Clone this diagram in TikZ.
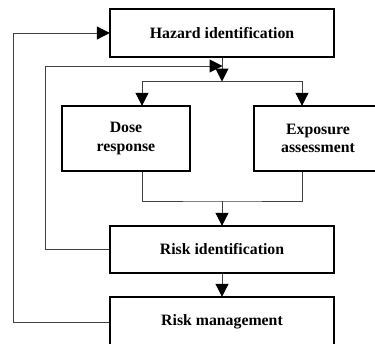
\documentclass[tikz,border=0pt]{standalone}
\usepackage{fontspec}
\setmainfont{Liberation Serif}
\usepackage{tikz}
\usetikzlibrary{arrows.meta,positioning}

\begin{document}
\begin{tikzpicture}[x=1pt, y=1pt,
  box/.style={draw, line width=1.4pt, align=center, inner sep=0pt,
              font=\fontsize{15.8}{18.5}\selectfont\bfseries},
  wide/.style={box, minimum width=224pt, minimum height=48pt},
  small/.style={box, minimum width=128pt, minimum height=65pt},
  line/.style={draw=black!75, line width=1pt},
  arrow/.style={line, -{Triangle[length=13pt, width=13pt, color=black]}, shorten >=-0.5pt}
]
\useasboundingbox (0,0) rectangle (375,-343);

\node[wide] (hazard) at (222,-33) {Hazard identification};
\node[small] (dose) at (126,-138.5) {Dose\\ response};
\node[small] (expo) at (318,-138.5) {Exposure\\ assessment};
\node[wide, minimum height=47pt] (riskid) at (222,-249.5) {Risk identification};
\node[wide, minimum height=50pt, text depth=3pt] (riskman) at (222,-322) {Risk management};

\coordinate (split) at (222,-81);
\coordinate (merge) at (222,-201);
\coordinate (fbin) at (222,-66);

% forward path
\draw[arrow] (hazard) -- (split);
\draw[arrow] (split) -| ([xshift=16pt]dose.north);
\draw[arrow] (split) -| ([xshift=-16pt]expo.north);
\draw[line] ([xshift=16pt]dose.south) |- (merge) -| ([xshift=-16pt]expo.south);
\draw[arrow] (merge) -- (riskid);
\draw[arrow] (riskid) -- (riskman);

% feedback loops
\draw[arrow] (riskid.west) -- ++(-64,0) |- (fbin);
\draw[arrow] (riskman.west) -- ++(-96,0) |- (hazard.west);
\end{tikzpicture}
\end{document}
